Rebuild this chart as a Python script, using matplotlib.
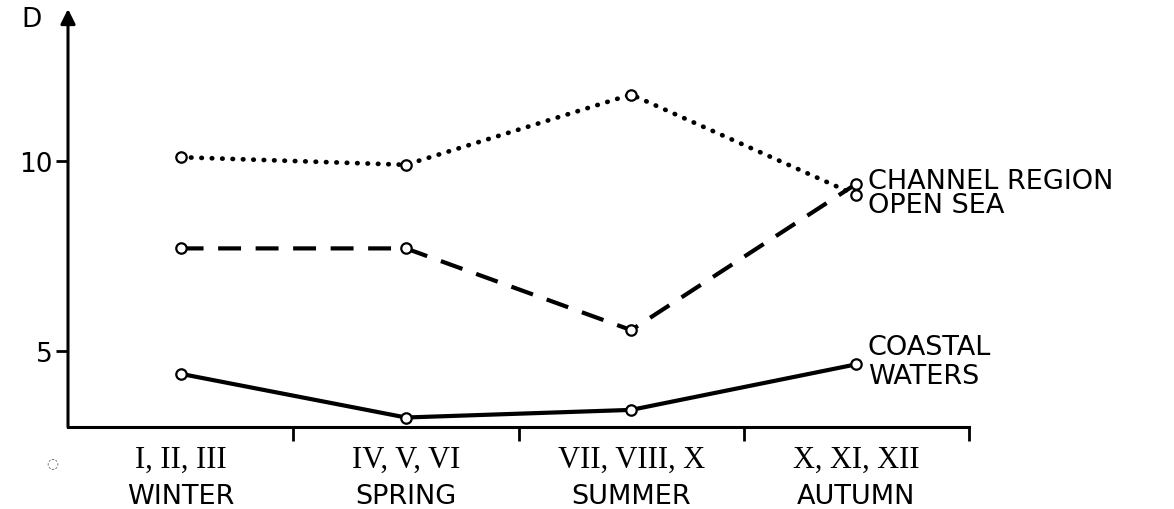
import matplotlib.pyplot as plt
import numpy as np

# valores
meses = ['I, II, III', 'IV, V, VI', 'VII, VIII, X', 'X, XI, XII']
estaciones = ['WINTER', 'SPRING', 'SUMMER', 'AUTUMN']
channel = [10.1, 9.9, 11.75, 9.1]
open_sea = [7.7, 7.7, 5.55, 9.4]
coastal = [4.4, 3.25, 3.45, 4.65]

x = np.arange(len(meses)) + 0.5

fig = plt.figure(figsize=(11.74, 5.10), dpi=100)
ax = fig.add_axes([68/1174, 82/510, 901/1174, 418/510])

mk = dict(marker='o', markersize=7.5, markerfacecolor='white',
          markeredgecolor='black', markeredgewidth=1.6, color='black')

ax.plot(x, channel, linestyle=(0, (0.1, 2.1)), lw=3.4,
        dash_capstyle='round', **mk)
ax.plot(x, open_sea, linestyle=(0, (5.5, 3.5)), lw=3, **mk)
ax.plot(x, coastal, linestyle='-', lw=3, **mk)

ax.set_xlim(0, 4)
ax.set_ylim(3, 14)

for s in ['top', 'right', 'left']:
    ax.spines[s].set_visible(False)
ax.spines['bottom'].set_linewidth(2.2)

# eje vertical con flecha
ax.annotate('', xy=(0, 1), xytext=(0, 0), xycoords='axes fraction',
            arrowprops=dict(arrowstyle='-|>', lw=2.2, color='black',
                            mutation_scale=22, shrinkA=0, shrinkB=0))

ax.set_yticks([5, 10])
ax.set_yticklabels(['5', '10'], fontsize=19)
ax.tick_params(axis='y', length=9, width=2, pad=2)
ax.set_xticks([1, 2, 3, 4])
ax.set_xticklabels([])
ax.tick_params(axis='x', length=10, width=2)

ax.text(-0.04, 0.975, 'D', transform=ax.transAxes, fontsize=19,
        ha='center', va='center')

# etiquetas de categorías
for xi, m, e in zip(x, meses, estaciones):
    ax.text(xi, -0.077, m, transform=ax.get_xaxis_transform(),
            ha='center', va='center', fontsize=22, family='Liberation Serif')
    ax.text(xi, -0.165, e, transform=ax.get_xaxis_transform(),
            ha='center', va='center', fontsize=19.5)

# nombres de las series
ax.text(3.55, 9.47, 'CHANNEL REGION', fontsize=19.5, va='center', ha='left')
ax.text(3.55, 8.84, 'OPEN SEA', fontsize=19.5, va='center', ha='left')
ax.text(3.55, 5.1, 'COASTAL', fontsize=19.5, va='center', ha='left')
ax.text(3.55, 4.34, 'WATERS', fontsize=19.5, va='center', ha='left')

# marca suelta del escaneo
fig.text(52/1174, 1 - 463/510, '\u25cc', fontsize=10, color='#555555',
         ha='center', va='center')

fig.savefig('out.png', dpi=100)
